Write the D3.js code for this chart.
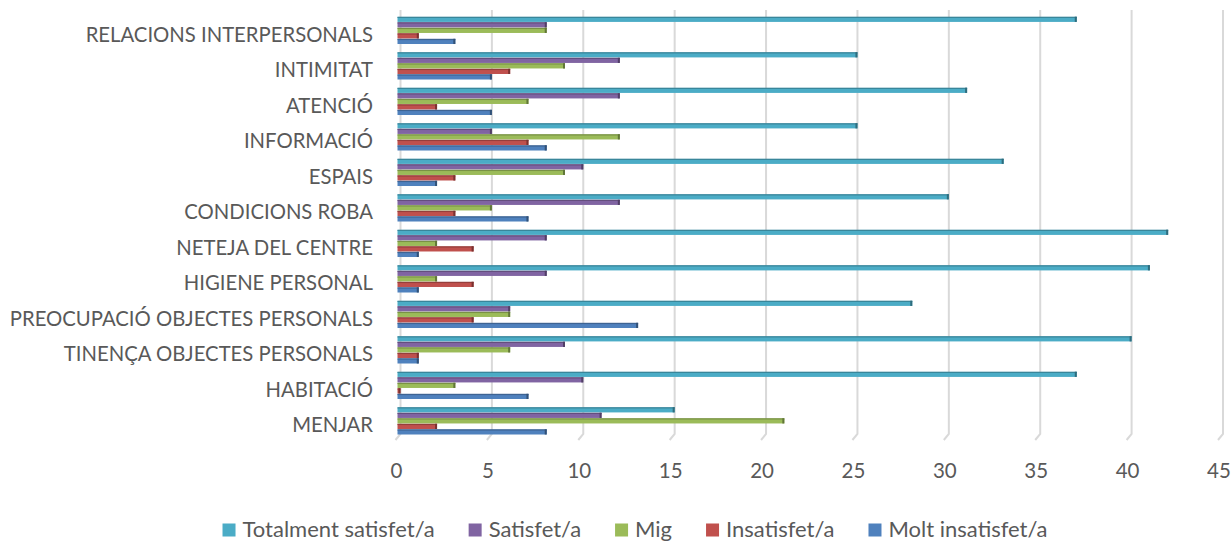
<!DOCTYPE html>
<html><head><meta charset="utf-8">
<script src="https://cdn.jsdelivr.net/npm/d3@7"></script>
<style>
body{margin:0;background:#fff}
text{font-family:Lato,"Open Sans",sans-serif;fill:#595959}
</style>
</head><body>
<svg id="chart" width="1231" height="541"></svg>
<script>
const categories = ["RELACIONS INTERPERSONALS","INTIMITAT","ATENCIÓ","INFORMACIÓ","ESPAIS ","CONDICIONS ROBA","NETEJA DEL CENTRE","HIGIENE PERSONAL","PREOCUPACIÓ OBJECTES PERSONALS","TINENÇA OBJECTES PERSONALS","HABITACIÓ","MENJAR"];
const seriesNames = ["Totalment satisfet/a","Satisfet/a","Mig","Insatisfet/a","Molt insatisfet/a"];
const totalmentSatisfet = [37,25,31,25,33,30,42,41,28,40,37,15];
const satisfet          = [8,12,12,5,10,12,8,8,6,9,10,11];
const mig               = [8,9,7,12,9,5,2,2,6,6,3,21];
const insatisfet        = [1,6,2,7,3,3,4,4,4,1,0,2];
const moltInsatisfet    = [3,5,5,8,2,7,1,1,13,1,7,8];
const xTicks = [0,5,10,15,20,25,30,35,40,45];
const colors = ["#4BACC6","#8064A2","#9BBB59","#C0504D","#4F81BD"];

const seriesValues = [totalmentSatisfet, satisfet, mig, insatisfet, moltInsatisfet];

const svg = d3.select("#chart");
const x = d3.scaleLinear().domain([0,45]).range([400.5,1223]);
const y0 = d3.scaleBand().domain(categories).range([12.75,438.75]).paddingInner(0.222).paddingOuter(0.111);
const y1 = d3.scaleBand().domain(seriesNames).range([0,y0.bandwidth()]);
const color = d3.scaleOrdinal().domain(seriesNames).range(colors);
const depth = 3;

// gridlines with 3D floor slant
svg.append("g").selectAll("path").data(xTicks).join("path")
  .attr("d", d => `M${x(d)},10V434L${x(d)-5},440`)
  .attr("fill","none").attr("stroke","#d9d9d9").attr("stroke-width",2);

// bars
const rows = [];
categories.forEach((c,i) => seriesNames.forEach((s,j) => rows.push({c, s, v: seriesValues[j][i]})));
const bars = svg.append("g").selectAll("g").data(rows).join("g")
  .attr("transform", d => `translate(0,${y0(d.c)+y1(d.s)})`);
const h = y1.bandwidth();
bars.append("rect")
  .attr("x", x(0)-depth).attr("y",0.3)
  .attr("width", d => x(d.v)-x(0)+depth).attr("height", h-0.6)
  .attr("fill", d => color(d.s));
bars.append("rect")
  .attr("x", x(0)-depth).attr("y",0)
  .attr("width", d => x(d.v)-x(0)+depth).attr("height", 1.3)
  .attr("fill", d => d3.color(color(d.s)).darker(0.7));
bars.append("rect")
  .attr("x", d => x(d.v)-2).attr("y",0)
  .attr("width", 2).attr("height", h-0.3)
  .attr("fill", d => d3.color(color(d.s)).darker(1.3));

// category labels
svg.append("g").selectAll("text").data(categories).join("text")
  .attr("x",373).attr("y", d => y0(d)+y0.bandwidth()/2+11)
  .attr("text-anchor","end").attr("font-size",20.3)
  .text(d => d);

// x tick labels
svg.append("g").selectAll("text").data(xTicks).join("text")
  .attr("x", d => x(d)-4).attr("y",478)
  .attr("text-anchor","middle").attr("font-size",20.5)
  .text(d => d);

// legend
const lg = svg.append("g");
const items = lg.selectAll("g").data(seriesNames).join("g");
items.append("rect").attr("width",13).attr("height",13).attr("y",-13.5).attr("fill", d => color(d));
items.append("text").attr("x",20).attr("y",0).attr("font-size",22).text(d => d);
const widths = [];
items.each(function(){ const w = 20 + d3.select(this).select("text").node().getComputedTextLength(); widths.push(w); });
const total = d3.sum(widths) + 34*(widths.length-1);
let start = 635 - total/2;
items.attr("transform", (d,i) => { const t = `translate(${start},537)`; start += widths[i] + 34; return t; });
</script>
</body></html>
